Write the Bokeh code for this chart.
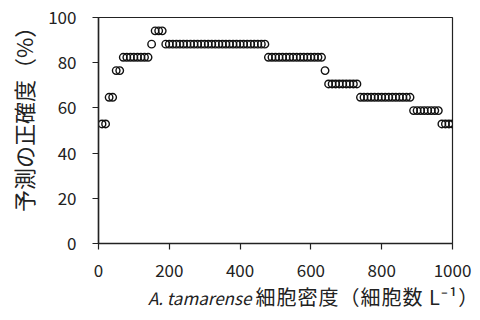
from bokeh.plotting import figure
from bokeh.models import FixedTicker, Div
from bokeh.layouts import column
from bokeh.embed import file_html
from bokeh.resources import INLINE

# cell density (cells / L)
density = [10, 20, 30, 40, 50, 60, 70, 80, 90, 100,
           110, 120, 130, 140, 150, 160, 170, 180, 190, 200,
           210, 220, 230, 240, 250, 260, 270, 280, 290, 300,
           310, 320, 330, 340, 350, 360, 370, 380, 390, 400,
           410, 420, 430, 440, 450, 460, 470, 480, 490, 500,
           510, 520, 530, 540, 550, 560, 570, 580, 590, 600,
           610, 620, 630, 640, 650, 660, 670, 680, 690, 700,
           710, 720, 730, 740, 750, 760, 770, 780, 790, 800,
           810, 820, 830, 840, 850, 860, 870, 880, 890, 900,
           910, 920, 930, 940, 950, 960, 970, 980, 990, 1000]

# prediction accuracy (%)
accuracy = [52.9, 52.9, 64.7, 64.7, 76.5, 76.5, 82.4, 82.4, 82.4, 82.4,
            82.4, 82.4, 82.4, 82.4, 88.2, 94.1, 94.1, 94.1, 88.2, 88.2,
            88.2, 88.2, 88.2, 88.2, 88.2, 88.2, 88.2, 88.2, 88.2, 88.2,
            88.2, 88.2, 88.2, 88.2, 88.2, 88.2, 88.2, 88.2, 88.2, 88.2,
            88.2, 88.2, 88.2, 88.2, 88.2, 88.2, 88.2, 82.4, 82.4, 82.4,
            82.4, 82.4, 82.4, 82.4, 82.4, 82.4, 82.4, 82.4, 82.4, 82.4,
            82.4, 82.4, 82.4, 76.5, 70.6, 70.6, 70.6, 70.6, 70.6, 70.6,
            70.6, 70.6, 70.6, 64.7, 64.7, 64.7, 64.7, 64.7, 64.7, 64.7,
            64.7, 64.7, 64.7, 64.7, 64.7, 64.7, 64.7, 64.7, 58.8, 58.8,
            58.8, 58.8, 58.8, 58.8, 58.8, 58.8, 52.9, 52.9, 52.9, 52.9]

x_ticks = [0, 200, 400, 600, 800, 1000]
y_ticks = [0, 20, 40, 60, 80, 100]

y_title = "予測の正確度（%）"
x_title_species = "A. tamarense"
x_title_rest = "細胞密度（細胞数 L⁻¹）"

FONT = "Noto Sans CJK JP"
INK = "#222222"
W = 476

p = figure(width=W, height=284, x_range=(0, 1000), y_range=(0, 100),
           output_backend="svg", toolbar_location=None,
           min_border_left=98, min_border_right=24,
           min_border_top=17, min_border_bottom=41)

p.scatter(density, accuracy, marker="circle", size=7.5,
          fill_alpha=0, line_color="#111111", line_width=1.4)

p.xgrid.visible = False
p.ygrid.visible = False
p.outline_line_color = INK
p.outline_line_width = 1.2

for ax in (p.xaxis[0], p.yaxis[0]):
    ax.axis_line_color = INK
    ax.axis_line_width = 1.5
    ax.major_tick_line_color = INK
    ax.major_tick_line_width = 1.2
    ax.major_tick_in = 0
    ax.major_tick_out = 6
    ax.minor_tick_line_color = None
    ax.major_label_text_font = FONT
    ax.major_label_text_font_size = "17px"
    ax.major_label_text_color = INK

p.xaxis.ticker = FixedTicker(ticks=x_ticks)
p.yaxis.ticker = FixedTicker(ticks=y_ticks)
p.xaxis.major_label_standoff = 14
p.yaxis.major_label_standoff = 16

# leading non-collapsing spaces nudge the rotated title upward, as in the reference
p.yaxis.axis_label = "\u3000\u2002" + y_title
p.yaxis.axis_label_text_font = FONT
p.yaxis.axis_label_text_font_size = "22px"
p.yaxis.axis_label_text_font_style = "normal"
p.yaxis.axis_label_text_color = INK
p.yaxis.axis_label_standoff = 6

# x-axis title below the chart (italic species name + upright Japanese)
xt = Div(text=(f'<i style="font-size:17px">{x_title_species}</i> '
               f'<span style="font-size:20px;letter-spacing:1px">{x_title_rest}</span>'),
         width=W, height=30,
         styles={"font-family": f"'{FONT}'", "font-size": "19px",
                 "color": INK, "white-space": "nowrap",
                 "line-height": "26px", "padding-left": "148px",
                 "margin": "0"})

layout = column(p, xt, spacing=0)
open("out.html", "w").write(file_html(layout, INLINE))
